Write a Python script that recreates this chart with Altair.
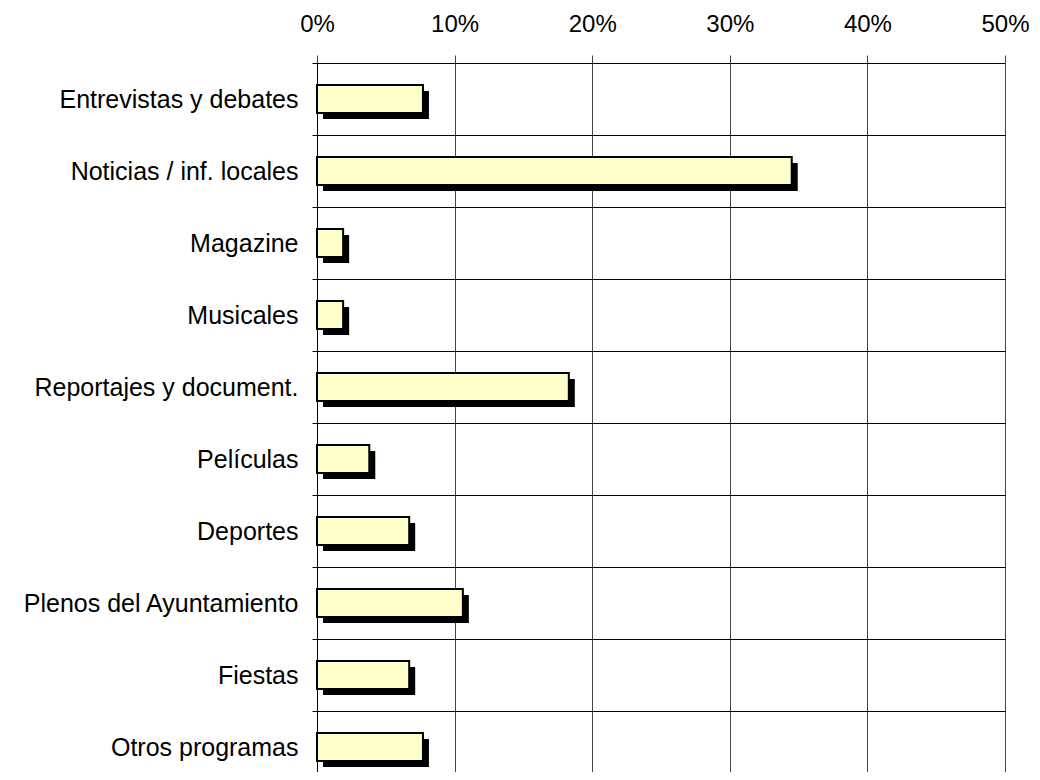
import altair as alt
import pandas as pd

categories = [
    "Entrevistas y debates",
    "Noticias / inf. locales",
    "Magazine",
    "Musicales",
    "Reportajes y document.",
    "Películas",
    "Deportes",
    "Plenos del Ayuntamiento",
    "Fiestas",
    "Otros programas",
]
values = [7.7, 34.5, 1.9, 1.9, 18.3, 3.8, 6.7, 10.6, 6.7, 7.7]
tick_values = [0, 10, 20, 30, 40, 50]

df = pd.DataFrame({"cat": categories, "val": values})

x_enc = alt.X(
    "val:Q",
    scale=alt.Scale(domain=[0, 50], nice=False, zero=True),
    axis=alt.Axis(
        orient="top",
        values=tick_values,
        labelExpr="datum.value + '%'",
        title=None,
        grid=True,
        gridColor="#444444",
        gridOpacity=1,
        gridWidth=1,
        domain=False,
        ticks=True,
        tickSize=8,
        tickColor="#444444",
        tickWidth=1,
        labelFontSize=24,
        labelFont="Liberation Sans",
        labelColor="black",
        labelPadding=19,
        labelFlush=False,
        labelOverlap=False,
    ),
)
y_enc = alt.Y(
    "cat:N",
    sort=categories,
    scale=alt.Scale(paddingInner=0, paddingOuter=0),
    axis=alt.Axis(
        title=None,
        grid=True,
        gridColor="black",
        gridOpacity=1,
        gridWidth=1,
        tickBand="extent",
        domain=True,
        domainColor="black",
        domainWidth=1,
        ticks=True,
        tickSize=5,
        tickColor="black",
        labelFontSize=25,
        labelFont="Liberation Sans",
        labelColor="black",
        labelPadding=14,
        labelLimit=400,
    ),
)

shadow = alt.Chart(df).mark_bar(
    color="black", size=28, xOffset=6, yOffset=6
).encode(x=x_enc, y=y_enc)

bars = alt.Chart(df).mark_bar(
    fill="#FFFFCC", stroke="black", strokeWidth=2, size=28
).encode(x=x_enc, y=y_enc)

chart = (
    alt.layer(shadow, bars)
    .properties(
        width=688,
        height=720,
        autosize=alt.AutoSizeParams(type="none"),
        padding={"left": 309, "top": 55, "right": 27, "bottom": -11},
        background="white",
    )
    .configure_view(stroke=None)
)

chart.save("out.html", embed_options={"renderer": "svg", "actions": False})
